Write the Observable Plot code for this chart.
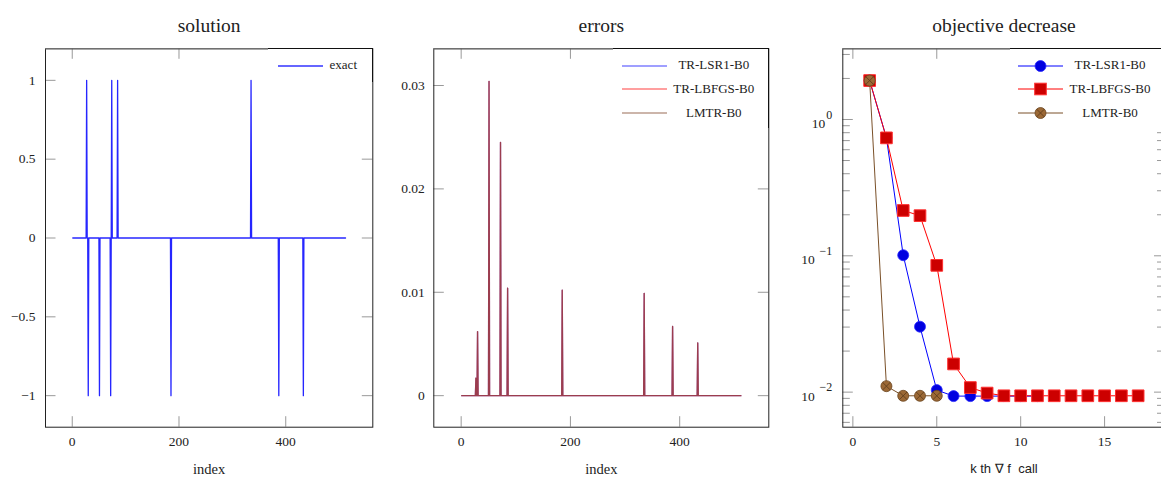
<!DOCTYPE html>
<html><head><meta charset="utf-8">
<script src="https://cdn.jsdelivr.net/npm/d3@7"></script>
<script src="https://cdn.jsdelivr.net/npm/@observablehq/plot@0.6"></script>
<style>
html,body{margin:0;padding:0;background:#fff;overflow:hidden;width:1161px;height:481px;}
#root{position:relative;width:1161px;height:481px;overflow:hidden;font-family:"Liberation Serif",serif;color:#222;}
.panel{position:absolute;top:0;width:390px;height:481px;}
.panel svg{display:block;}
.legtxt{position:absolute;font-size:13px;line-height:16px;text-align:center;white-space:nowrap;width:120px;color:#222;}
</style>
</head><body><div id="root"></div><script>
// ---------- data ----------
const nIndex = 512;
const solIndex = [27, 30, 51, 72, 74, 85, 185, 335, 387, 433];
const solValue = [1, -1, -1, -1, 1, 1, -1, 1, -1, -1];

const errIndex = [27, 30, 51, 72, 85, 185, 335, 387, 433];
const errLSR1  = [0.0017, 0.0062, 0.0304, 0.0245, 0.0104, 0.0102, 0.0099, 0.0067, 0.0051];
const errLBFGS = [0.0017, 0.0062, 0.0304, 0.0245, 0.0104, 0.0102, 0.0099, 0.0067, 0.0051];
const errLMTR  = [0.0017, 0.0062, 0.0304, 0.0245, 0.0104, 0.0102, 0.0099, 0.0067, 0.0051];

const callsLSR1  = [1, 2, 3, 4, 5, 6, 7, 8, 9, 10, 11];
const objLSR1    = [1.93, 0.733, 0.101, 0.0302, 0.01035, 0.00935, 0.00935, 0.00935, 0.00935, 0.00935, 0.00935];
const callsLBFGS = [1, 2, 3, 4, 5, 6, 7, 8, 9, 10, 11, 12, 13, 14, 15, 16, 17];
const objLBFGS   = [1.93, 0.733, 0.215, 0.197, 0.0851, 0.0161, 0.0108, 0.00984, 0.0094, 0.0094, 0.0094, 0.0094, 0.0094, 0.0094, 0.0094, 0.0094, 0.0094];
const callsLMTR  = [1, 2, 3, 4, 5];
const objLMTR    = [1.93, 0.01106, 0.0094, 0.0094, 0.0094];

const idxTicks = [0, 200, 400];
const solTicks = [-1, -0.5, 0, 0.5, 1];
const errTicks = [0, 0.01, 0.02, 0.03];
const callTicks = [0, 5, 10, 15];
const objTicks = [0.01, 0.1, 1];
const objExp = ["\u22122", "\u22121", "0"];
const objMinor = [0.006, 0.007, 0.008, 0.009, 0.02, 0.03, 0.04, 0.05, 0.06, 0.07, 0.08, 0.09, 0.2, 0.3, 0.4, 0.5, 0.6, 0.7, 0.8, 0.9, 2, 3];

const titles = ["solution", "errors", "objective decrease"];
const seriesNames = ["TR-LSR1-B0", "TR-LBFGS-B0", "LMTR-B0"];

// ---------- tables ----------
const full = (idx, val) => {
  const arr = Array.from({length: nIndex}, (_, i) => ({i: i + 1, v: 0}));
  idx.forEach((k, j) => { arr[k - 1].v = val[j]; });
  return arr;
};
const solution = full(solIndex, solValue);
const e1 = full(errIndex, errLSR1), e2 = full(errIndex, errLBFGS), e3 = full(errIndex, errLMTR);
const o1 = callsLSR1.map((k, j) => ({k, v: objLSR1[j]}));
const o2 = callsLBFGS.map((k, j) => ({k, v: objLBFGS[j]}));
const o3 = callsLMTR.map((k, j) => ({k, v: objLMTR[j]}));
const objLab = objTicks.map((v, j) => ({v, e: objExp[j]}));

// ---------- layout ----------
const H = 481, MT = 48.3, MB = 54.3, FH = H - MT - MB;
const TICK = "#999", LEN = 10.5, MLEN = 7.5;
const serif = "Liberation Serif, serif";
const fmt = d => d === 0 ? "0" : (d < 0 ? "\u2212" : "") + Math.abs(d);

function tickRules(xT, yT, fw, yMinor) {
  const m = [
    Plot.ruleX(xT, {insetTop: FH - LEN, stroke: TICK}),
    Plot.ruleX(xT, {insetBottom: FH - LEN, stroke: TICK}),
    Plot.ruleY(yT, {insetRight: fw - LEN, stroke: TICK}),
    Plot.ruleY(yT, {insetLeft: fw - LEN, stroke: TICK})
  ];
  if (yMinor) {
    m.push(Plot.ruleY(yMinor, {insetRight: fw - MLEN, stroke: TICK}));
    m.push(Plot.ruleY(yMinor, {insetLeft: fw - MLEN, stroke: TICK}));
  }
  return m;
}
function frameMarks(yTop) {
  return [Plot.frame({stroke: "#222"}), Plot.ruleY([yTop], {stroke: "#777"})];
}
function titleMark(t) {
  return Plot.text([t], {frameAnchor: "top", dy: -30.5, fontSize: 19.5, fill: "#222"});
}
const style = {fontFamily: serif, fontSize: "13.5px", color: "#222", background: "white", overflow: "visible"};

// panel 1
const fw1 = 390 - 45 - 17.7;
const p1 = Plot.plot({
  width: 390, height: H, marginLeft: 45, marginRight: 17.7, marginTop: MT, marginBottom: MB,
  style,
  x: {domain: [-50.1, 563.1]},
  y: {domain: [-1.2, 1.2]},
  marks: [
    ...tickRules(idxTicks, solTicks, fw1),
    Plot.line(solution, {x: "i", y: "v", stroke: "#0000ff", strokeWidth: 1.3, strokeOpacity: 0.85}),
    ...frameMarks(1.2),
    Plot.axisX(idxTicks, {tickSize: 0, tickPadding: 9, label: null, fontSize: 13.5}),
    Plot.axisY(solTicks, {tickSize: 0, tickPadding: 10, label: null, fontSize: 13.5, tickFormat: fmt}),
    Plot.text(["index"], {frameAnchor: "bottom", dy: 46.5, fontSize: 14.5, fill: "#222"}),
    titleMark(titles[0])
  ]
});

// panel 2
const fw2 = 390 - 43.3 - 11.7;
const p2 = Plot.plot({
  width: 390, height: H, marginLeft: 43.3, marginRight: 11.7, marginTop: MT, marginBottom: MB,
  style,
  x: {domain: [-50.1, 563.1]},
  y: {domain: [-0.00305, 0.03355]},
  marks: [
    ...tickRules(idxTicks, errTicks, fw2),
    Plot.line(e1, {x: "i", y: "v", stroke: "#0000ff", strokeWidth: 1.3, strokeOpacity: 0.5}),
    Plot.line(e2, {x: "i", y: "v", stroke: "#ff0000", strokeWidth: 1.3, strokeOpacity: 0.5}),
    Plot.line(e3, {x: "i", y: "v", stroke: "#783c1e", strokeWidth: 1.3, strokeOpacity: 0.5}),
    ...frameMarks(0.03355),
    Plot.axisX(idxTicks, {tickSize: 0, tickPadding: 9, label: null, fontSize: 13.5}),
    Plot.axisY(errTicks, {tickSize: 0, tickPadding: 9, label: null, fontSize: 13.5, tickFormat: fmt}),
    Plot.text(["index"], {frameAnchor: "bottom", dy: 46.5, fontSize: 14.5, fill: "#222"}),
    titleMark(titles[1])
  ]
});

// panel 3
const fw3 = 390 - 62.3 - 5.5;
const p3 = Plot.plot({
  width: 390, height: H, marginLeft: 62.3, marginRight: 5.5, marginTop: MT, marginBottom: MB,
  style,
  x: {domain: [-0.6, 18.6]},
  y: {type: "log", domain: [0.00553, 3.30], axis: null},
  marks: [
    ...tickRules(callTicks, objTicks, fw3, objMinor),
    Plot.line(o1, {x: "k", y: "v", stroke: "#0000ff", strokeWidth: 1}),
    Plot.dot(o1, {x: "k", y: "v", r: 5.5, fill: "#0000e0", stroke: "#2a2aff", strokeWidth: 0.8}),
    Plot.line(o2, {x: "k", y: "v", stroke: "#ff0000", strokeWidth: 1}),
    Plot.dot(o2, {x: "k", y: "v", symbol: "square", r: 6.6, fill: "#cc0000", stroke: "#ff3030", strokeWidth: 1}),
    Plot.line(o3, {x: "k", y: "v", stroke: "#7a5028", strokeWidth: 1}),
    Plot.dot(o3, {x: "k", y: "v", r: 5.5, fill: "#9b6835", stroke: "#6b4520", strokeWidth: 0.8}),
    Plot.dot(o3, {x: "k", y: "v", symbol: "times", r: 3.6, stroke: "#5a3a1a", strokeWidth: 0.8}),
    ...frameMarks(3.30),
    Plot.axisX(callTicks, {tickSize: 0, tickPadding: 9, label: null, fontSize: 13.5}),
    // y tick labels: base "10" plus raised exponent
    Plot.text(objLab, {y: "v", text: "e", frameAnchor: "left", textAnchor: "end", dx: -10.6, dy: -4.5, fontSize: 12, fill: "#222"}),
    Plot.text(objLab.filter(d => d.v >= 1), {y: "v", text: () => "10", frameAnchor: "left", textAnchor: "end", dx: -17.6, dy: 4.2, fontSize: 13.5, fill: "#222"}),
    Plot.text(objLab.filter(d => d.v < 1), {y: "v", text: () => "10", frameAnchor: "left", textAnchor: "end", dx: -28, dy: 4.2, fontSize: 13.5, fill: "#222"}),
    Plot.text(["k th \u2207 f  call"], {frameAnchor: "bottom", dy: 46, fontSize: 13, fill: "#222",
      fontFamily: "Liberation Sans, sans-serif", style: "white-space:pre"}),
    titleMark(titles[2])
  ]
});

const root = document.getElementById("root");
[[p1, 0], [p2, 390], [p3, 780]].forEach(([svg, left]) => {
  const d = document.createElement("div");
  d.className = "panel"; d.style.left = left + "px";
  d.appendChild(svg); root.appendChild(d);
});

// ---------- legends (HTML overlay) ----------
const NS = "http://www.w3.org/2000/svg";
function swatch(kind, color, opacity, width) {
  let s = `<line x1="0" x2="45" y1="8" y2="8" stroke="${color}" stroke-opacity="${opacity}" stroke-width="${width}"/>`;
  if (kind === "circle") s += `<circle cx="22.5" cy="8" r="5.5" fill="#0000e0" stroke="#2a2aff" stroke-width="0.8"/>`;
  if (kind === "square") s += `<rect x="16.7" y="2.2" width="11.6" height="11.6" fill="#cc0000" stroke="#ff3030"/>`;
  if (kind === "cross") s += `<circle cx="22.5" cy="8" r="5.5" fill="#9b6835" stroke="#6b4520" stroke-width="0.8"/>` +
    `<path d="M18.6 4.1L26.4 11.9M18.6 11.9L26.4 4.1" stroke="#5a3a1a" stroke-width="0.8"/>`;
  return s;
}
function legend(boxLeft, boxRight, boxBottom, x1, cx, rows) {
  const box = document.createElement("div");
  box.style.cssText = `position:absolute;left:${boxLeft}px;top:47.8px;width:${boxRight - boxLeft}px;height:${boxBottom - 47.8}px;background:#fff;border-top:1px solid #111;border-right:1px solid #111;box-sizing:border-box;`;
  root.appendChild(box);
  rows.forEach(r => {
    const sv = document.createElementNS(NS, "svg");
    sv.setAttribute("width", 45); sv.setAttribute("height", 16);
    sv.style.cssText = `position:absolute;left:${x1}px;top:${r.y - 8}px;overflow:visible;`;
    sv.innerHTML = swatch(r.kind, r.color, r.opacity, r.width);
    root.appendChild(sv);
    const t = document.createElement("div");
    t.className = "legtxt"; t.textContent = r.name;
    t.style.left = (cx - 60) + "px"; t.style.top = (r.y - 8.5) + "px";
    root.appendChild(t);
  });
}
const rowY = [65.7, 89.3, 113.3];
legend(267.7, 372.8, 82, 277.7, 343.3, [{name: "exact", y: rowY[0], color: "#0000ff", opacity: 0.6, width: 2, kind: null}]);
legend(612.7, 768.8, 128, 622.3, 713.8, [
  {name: seriesNames[0], y: rowY[0], color: "#0000ff", opacity: 0.5, width: 1.3},
  {name: seriesNames[1], y: rowY[1], color: "#ff0000", opacity: 0.5, width: 1.3},
  {name: seriesNames[2], y: rowY[2], color: "#783c1e", opacity: 0.5, width: 1.3}
]);
legend(1010, 1165, 128, 1018.3, 1110, [
  {name: seriesNames[0], y: rowY[0], color: "#0000ff", opacity: 1, width: 1, kind: "circle"},
  {name: seriesNames[1], y: rowY[1], color: "#ff0000", opacity: 1, width: 1, kind: "square"},
  {name: seriesNames[2], y: rowY[2], color: "#7a5028", opacity: 1, width: 1, kind: "cross"}
]);
</script></body></html>
